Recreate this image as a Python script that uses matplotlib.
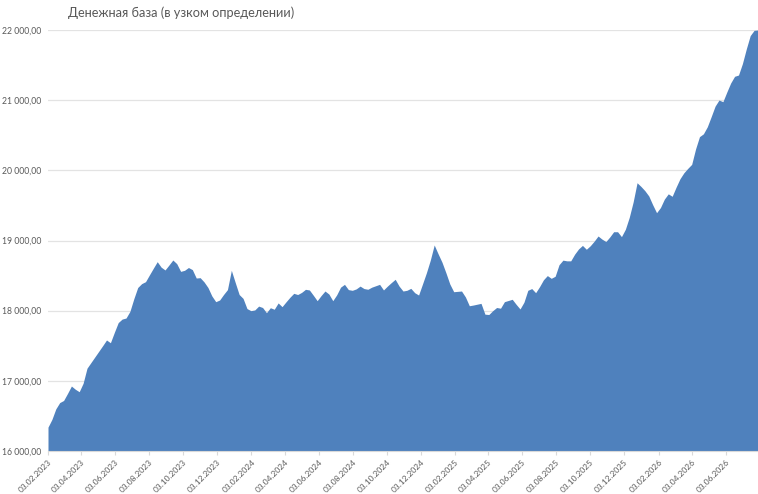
import matplotlib
matplotlib.use("Agg")
import matplotlib.pyplot as plt
import matplotlib.dates as mdates
import pandas as pd
from matplotlib.ticker import FuncFormatter

title = "Денежная база (в узком определении)"
start_date = "2023-02-03"
values = [
    16340, 16450, 16600, 16690, 16720, 16820, 16926, 16880, 16845, 16965,
    17180, 17260, 17340, 17420, 17500, 17582, 17543, 17690, 17830, 17880,
    17895, 17990, 18170, 18330, 18385, 18413, 18510, 18605, 18698, 18620,
    18580, 18650, 18722, 18670, 18560, 18575, 18615, 18585, 18465, 18470,
    18410, 18330, 18210, 18128, 18152, 18230, 18300, 18575, 18400, 18230,
    18175, 18030, 18000, 18010, 18065, 18045, 17971, 18042, 18020, 18110,
    18057, 18125, 18190, 18247, 18230, 18260, 18304, 18295, 18220, 18142,
    18215, 18280, 18237, 18142, 18225, 18335, 18375, 18300, 18290, 18310,
    18350, 18315, 18305, 18335, 18355, 18375, 18295, 18350, 18400, 18447,
    18350, 18280, 18290, 18318, 18256, 18223, 18380, 18540, 18720, 18936,
    18810, 18690, 18540, 18380, 18270, 18275, 18280, 18195, 18070, 18080,
    18092, 18104, 17950, 17945, 18000, 18045, 18035, 18128, 18145, 18162,
    18090, 18024, 18120, 18290, 18315, 18256, 18342, 18440, 18500, 18461,
    18490, 18655, 18720, 18710, 18710, 18805, 18880, 18930, 18875, 18925,
    18990, 19064, 19020, 18985, 19050, 19125, 19125, 19055, 19160, 19330,
    19550, 19823, 19770, 19710, 19635, 19510, 19396, 19470, 19590, 19665,
    19630, 19760, 19880, 19965, 20028, 20085, 20305, 20480, 20520, 20620,
    20765, 20915, 21002, 20978, 21115, 21245, 21340, 21358, 21520, 21730,
    21920, 21995, 22000,
]
tick_start = "2023-02-03"
tick_end = "2026-06-03"
y_min, y_max, y_step = 16000, 22000, 1000

dates = pd.date_range(start_date, periods=len(values), freq="7D")
tick_dates = pd.date_range(tick_start, tick_end, freq=pd.DateOffset(months=2))

plt.rcParams["font.family"] = ["Lato", "DejaVu Sans"]

fig = plt.figure(figsize=(7.58, 4.94), dpi=100)
ax = fig.add_axes([48 / 758, 1 - 451 / 494, 1 - 48 / 758, (451 - 30) / 494])

ax.fill_between(dates, values, y_min, color="#4F81BD", linewidth=0, zorder=2)

ax.set_ylim(y_min, y_max)
ax.set_xlim(dates[0], dates[-1])
ax.set_yticks(range(y_min, y_max + 1, y_step))
ax.yaxis.set_major_formatter(FuncFormatter(
    lambda v, p: f"{v:,.2f}".replace(",", " ").replace(".", ",")))
ax.grid(axis="y", color="#e3e3e3", linewidth=0.9, zorder=0)
ax.set_axisbelow(True)

ax.set_xticks(tick_dates)
ax.set_xticklabels([d.strftime("%d.%m.%Y") for d in tick_dates],
                   rotation=45, ha="right", rotation_mode="anchor")

for s in ["top", "right", "left"]:
    ax.spines[s].set_visible(False)
ax.spines["bottom"].set_color("#d9d9d9")
ax.spines["bottom"].set_zorder(3)

ax.tick_params(axis="y", length=0, labelsize=6.2, labelcolor="#595959", pad=5)
ax.tick_params(axis="x", length=3, color="#d9d9d9", labelsize=6.0,
               labelcolor="#595959", pad=2)

fig.text(68 / 758, 1 - 13 / 494, title, fontsize=9.2, color="#595959",
         ha="left", va="center")

fig.savefig("out.png", dpi=100)
